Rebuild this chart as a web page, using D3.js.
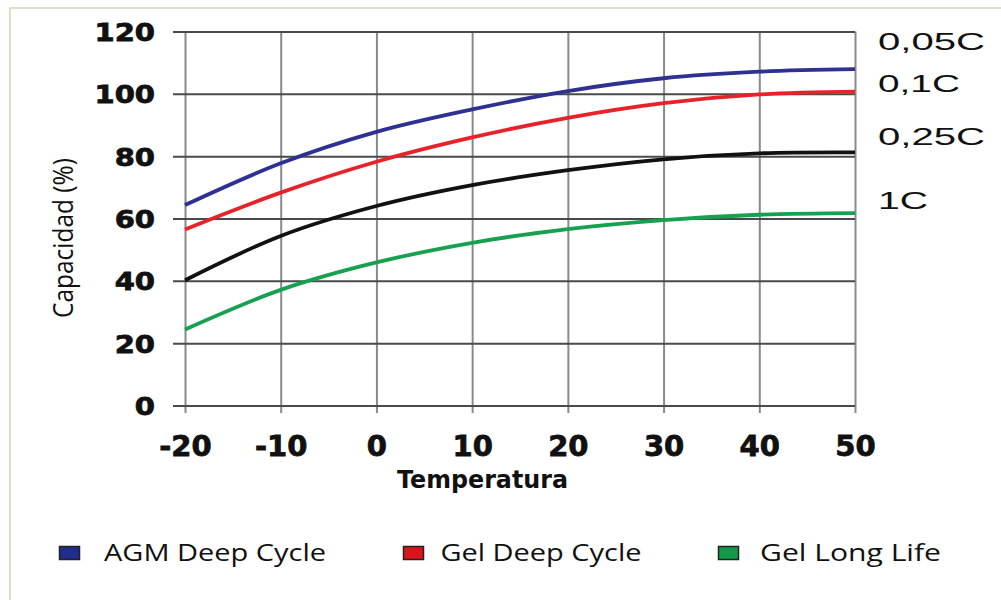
<!DOCTYPE html>
<html>
<head>
<meta charset="utf-8">
<script src="https://cdn.jsdelivr.net/npm/d3@7"></script>
<style>
  html, body { margin: 0; padding: 0; background: #fff; }
  svg { display: block; }
</style>
</head>
<body>
<svg id="chart" width="1001" height="600"></svg>
<script>
// ---- data ----
const temps = [-20, -10, 0, 10, 20, 30, 40, 50];
const agm005 = [64.3, 77.7, 87.8, 95.0, 100.9, 105.0, 107.1, 107.9];
const gel01 = [56.5, 68.3, 78.2, 86.0, 92.3, 97.0, 99.8, 100.7];
const black025 = [40.2, 54.4, 64.0, 70.7, 75.5, 79.0, 80.9, 81.2];
const green1 = [24.4, 37.1, 45.9, 52.2, 56.6, 59.5, 61.2, 61.7];
const seriesNames = ["0,05C", "0,1C", "0,25C", "1C"];
const seriesColors = ["#2e3192", "#e8222a", "#111111", "#16a150"];
const xTicks = [-20, -10, 0, 10, 20, 30, 40, 50];
const yTicks = [0, 20, 40, 60, 80, 100, 120];
const legendNames = ["AGM Deep Cycle", "Gel Deep Cycle", "Gel Long Life"];
const legendColors = ["#1f2d8c", "#d9141b", "#129a48"];

const svg = d3.select("#chart");

// frame
svg.append("path").attr("d", "M10,600 L10,8 L1001,8")
  .attr("fill", "none").attr("stroke", "#e2ddc6").attr("stroke-width", 2);

const x = d3.scaleLinear().domain([-20, 50]).range([185, 855]);
const y = d3.scaleLinear().domain([0, 120]).range([405.5, 31.5]);

// vertical grid + x labels
const xAxis = d3.axisBottom(x).tickValues(xTicks).tickSize(-(413 - y(120))).tickFormat(d3.format("d"));
const gx = svg.append("g").attr("transform", "translate(0,413)").call(xAxis);
gx.select(".domain").remove();
gx.selectAll(".tick line").attr("stroke", "#8a8a8a").attr("stroke-width", 2);
gx.selectAll(".tick text")
  .attr("y", 43).attr("dy", null)
  .attr("fill", "#111")
  .attr("stroke", "#111").attr("stroke-width", 0.8)
  .style("font-family", "'DejaVu Sans', sans-serif")
  .style("font-weight", "bold")
  .style("font-size", "29px")
  .text(d => d < 0 ? "-" + Math.abs(d) : d);

// horizontal grid + y labels
const gy = svg.append("g").attr("transform", "translate(173,0)")
  .call(d3.axisLeft(y).tickValues(yTicks).tickSize(-(x(50) - 173)).tickFormat(d3.format("d")));
gy.select(".domain").remove();
gy.selectAll(".tick line").attr("stroke", "#4a4a4a").attr("stroke-width", 2);
gy.selectAll(".tick text")
  .attr("x", 0).attr("dy", null).attr("y", 0)
  .attr("text-anchor", "end")
  .attr("transform", "translate(-18,9) scale(1.16,1)")
  .attr("fill", "#111")
  .attr("stroke", "#111").attr("stroke-width", 0.8)
  .style("font-family", "'DejaVu Sans', sans-serif")
  .style("font-weight", "bold")
  .style("font-size", "25px");

// lines
const allSeries = [agm005, gel01, black025, green1];
const line = d3.line().x((d, i) => x(temps[i])).y(d => y(d)).curve(d3.curveCatmullRom.alpha(0.5));
svg.append("g").selectAll("path").data(allSeries).join("path")
  .attr("d", d => line(d))
  .attr("fill", "none")
  .attr("stroke", (d, i) => seriesColors[i])
  .attr("stroke-width", 3.8)
  .attr("stroke-linecap", "butt");

// right labels
const rlabY = [50, 92, 145, 209];
const rlabW = [107, 82, 107, 50];
svg.append("g").selectAll("text").data(seriesNames).join("text")
  .attr("x", 878).attr("y", (d, i) => rlabY[i])
  .attr("textLength", (d, i) => rlabW[i])
  .attr("lengthAdjust", "spacingAndGlyphs")
  .attr("fill", "#111")
  .style("font-family", "'Liberation Sans', Arial, sans-serif")
  .style("font-size", "24px")
  .text(d => d);

// axis titles
svg.append("text")
  .attr("transform", "translate(73,238) rotate(-90)")
  .attr("text-anchor", "middle")
  .attr("textLength", 160)
  .attr("lengthAdjust", "spacingAndGlyphs")
  .attr("fill", "#111")
  .style("font-family", "'Open Sans', sans-serif")
  .style("font-size", "27px")
  .text("Capacidad (%)");

svg.append("text")
  .attr("x", 397).attr("y", 488)
  .attr("textLength", 171)
  .attr("lengthAdjust", "spacingAndGlyphs")
  .attr("fill", "#111")
  .style("font-family", "'DejaVu Sans', sans-serif")
  .style("font-weight", "bold")
  .style("font-size", "24px")
  .text("Temperatura");

// legend
const legX = [59.5, 403.5, 718.5];
const legTX = [104, 440.5, 760];
const legW = [222, 201, 181];
const lg = svg.append("g");
lg.selectAll("rect").data(legendNames).join("rect")
  .attr("x", (d, i) => legX[i]).attr("y", 546.5)
  .attr("width", 20).attr("height", 13)
  .attr("fill", (d, i) => legendColors[i])
  .attr("stroke", "#222").attr("stroke-width", 1.5);
lg.selectAll("text").data(legendNames).join("text")
  .attr("x", (d, i) => legTX[i]).attr("y", 561)
  .attr("textLength", (d, i) => legW[i])
  .attr("lengthAdjust", "spacingAndGlyphs")
  .attr("fill", "#111")
  .style("font-family", "'Open Sans', sans-serif")
  .style("font-size", "23px")
  .text(d => d);
</script>
</body>
</html>
